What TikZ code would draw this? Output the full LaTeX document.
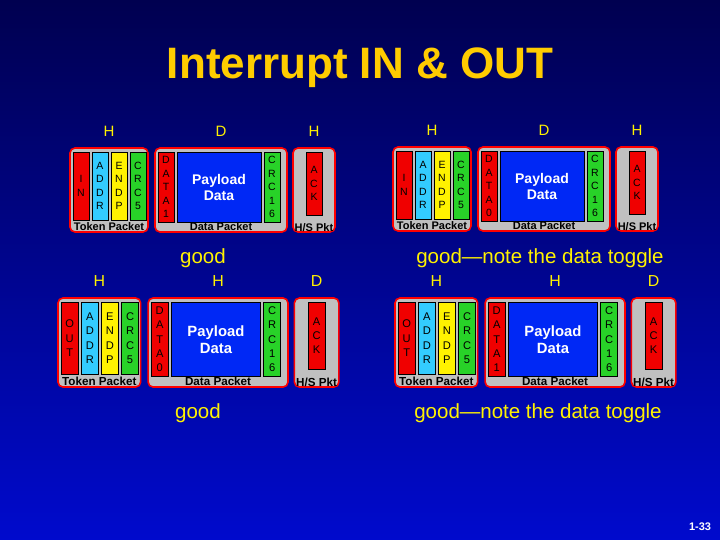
\documentclass[tikz,border=0pt]{standalone}
\usepackage{fontspec}
\setmainfont{Liberation Sans}
\usetikzlibrary{positioning}

\definecolor{slidetop}{RGB}{0,0,80}
\definecolor{slidebot}{RGB}{0,10,205}
\definecolor{titlegold}{RGB}{255,204,0}
\definecolor{boxgray}{RGB}{192,192,192}
\definecolor{pidred}{RGB}{240,0,0}
\definecolor{addrcyan}{RGB}{51,204,255}
\definecolor{crcgreen}{RGB}{40,210,40}
\definecolor{payblue}{RGB}{0,40,245}

% one transaction: token packet, data packet, handshake packet
\newcommand\xfer[6]{%
   \node[pkt,minimum width=78,minimum height=84 ] (#1tok)  at (39,-42)    {} ;
   \node[fld,fill=pidred,  minimum height=68    ] (#1pid)  at (11,-38)    {#2} ;
   \node[fld,fill=addrcyan,minimum height=68    ] (#1addr) at (30,-38)    {A\\D\\D\\R} ;
   \node[fld,fill=yellow,  minimum height=68    ] (#1endp) at (49,-38)    {E\\N\\D\\P} ;
   \node[fld,fill=crcgreen,minimum height=68    ] (#1crc5) at (68,-38)    {C\\R\\C\\5} ;
   \node[pktname                                ] (#1tokl) at (39,-78.5)  {Token Packet} ;
   \node[pkt,minimum width=132,minimum height=84] (#1dat)  at (151,-42)   {} ;
   \node[fld,fill=pidred,  minimum height=70    ] (#1dpid) at (96,-39)    {D\\A\\T\\A\\#3} ;
   \node[fld,fill=payblue, minimum width=84,minimum height=70,
         text=white,font=\fontsize{14}{16}\selectfont\bfseries] (#1pay) at (149,-39) {Payload\\Data} ;
   \node[fld,fill=crcgreen,minimum height=70    ] (#1crc)  at (202,-39)   {C\\R\\C\\1\\6} ;
   \node[pktname                                ] (#1datl) at (151,-78.5) {Data Packet} ;
   \node[pkt,minimum width=42,minimum height=84 ] (#1hs)   at (244,-42)   {} ;
   \node[fld,fill=pidred,  minimum height=63    ] (#1ack)  at (244,-35.5) {A\\C\\K} ;
   \node[pktname                                ] (#1hsl)  at (244,-79.5) {H/S Pkt} ;
   \node[lbl,above=10 of #1tok] (#1who1) {#4} ;
   \node[lbl,above=10 of #1dat] (#1who2) {#5} ;
   \node[lbl,above=10 of #1hs ] (#1who3) {#6} ;
}

\begin{document}
\begin{tikzpicture}[x=1pt,y=1pt,
   pkt/.style={draw=red,line width=1.6,fill=boxgray,rounded corners=5,inner sep=0},
   fld/.style={draw=black,line width=0.6,minimum width=16,inner sep=0,align=center,
               font=\fontsize{10.5}{13.5}\selectfont},
   pktname/.style={inner sep=0,font=\fontsize{11}{12}\selectfont\bfseries},
   lbl/.style={inner sep=0,text=yellow,font=\fontsize{15}{16}\selectfont},
   note/.style={inner sep=0,text=yellow,font=\fontsize{20.5}{22}\selectfont}]
   \useasboundingbox (0,0) rectangle (720,-540);
   \fill[top color=slidetop,bottom color=slidebot] (0,0) rectangle (720,-540);
   \node[text=titlegold,font=\fontsize{44}{50}\selectfont\bfseries] (title) at (360,-68) {Interrupt IN \& OUT} ;
   \begin{scope}[shift={(70,-148)}]
      \xfer{a}{I\\N}{1}{H}{D}{H}
   \end{scope}
   \begin{scope}[shift={(393,-147)}]
      \xfer{b}{I\\N}{0}{H}{D}{H}
   \end{scope}
   \begin{scope}[shift={(58,-298)},scale=1.06,transform shape]
      \xfer{c}{O\\U\\T}{0}{H}{H}{D}
   \end{scope}
   \begin{scope}[shift={(395,-298)},scale=1.06,transform shape]
      \xfer{d}{O\\U\\T}{1}{H}{H}{D}
   \end{scope}
   \node[note] (good1) at (203,-258) {good} ;
   \node[note] (good2) at (540,-258) {good---note the data toggle} ;
   \node[note] (good3) at (198,-413) {good} ;
   \node[note] (good4) at (538,-413) {good---note the data toggle} ;
   \node[text=white,font=\fontsize{11}{12}\selectfont\bfseries] (pageno) at (700,-527) {1-33} ;
\end{tikzpicture}
\end{document}
